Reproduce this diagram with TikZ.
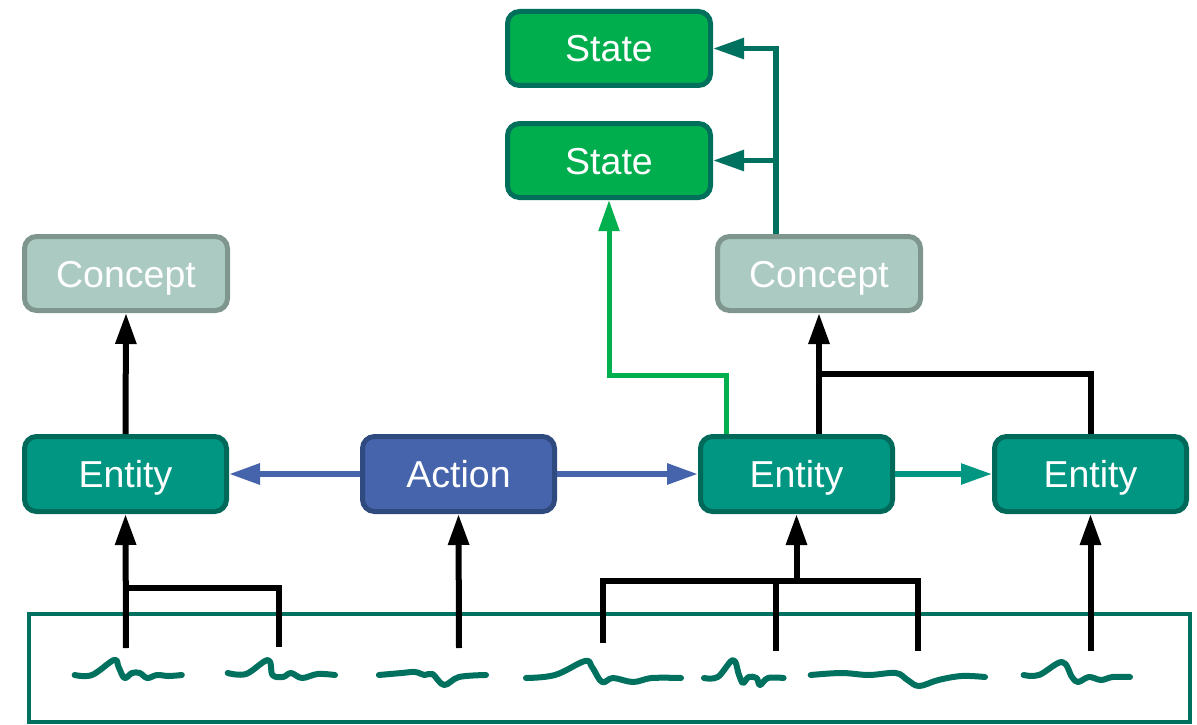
\documentclass[tikz,border=0pt]{standalone}
\usepackage{fontspec}
\setmainfont{Liberation Sans}
\usetikzlibrary{arrows.meta}

\definecolor{entfill}{HTML}{009682}
\definecolor{entdraw}{HTML}{00695A}
\definecolor{confill}{HTML}{ABCAC1}
\definecolor{condraw}{HTML}{7F968E}
\definecolor{actfill}{HTML}{4664AB}
\definecolor{actdraw}{HTML}{2F4A7E}
\definecolor{stafill}{HTML}{00AE4E}
\definecolor{stadraw}{HTML}{006F5B}
\definecolor{darkteal}{HTML}{00705F}
\definecolor{brightgreen}{HTML}{00B04F}

\tikzset{
  box/.style={rectangle, rounded corners=12pt, line width=5pt, inner sep=0pt,
    minimum width=202pt, minimum height=75pt, text=white,
    text height=27pt, text depth=0pt, font=\fontsize{37.5}{42}\selectfont},
  entitybox/.style={box, fill=entfill, draw=entdraw, minimum width=192pt},
  conceptbox/.style={box, fill=confill, draw=condraw, minimum width=203pt, minimum height=74pt},
  actionbox/.style={box, fill=actfill, draw=actdraw, minimum width=192pt},
  statebox/.style={box, fill=stafill, draw=stadraw, minimum width=203pt, minimum height=74pt},
  tip/.style={-{Triangle[length=31pt,width=20pt]}},
  blk/.style={line width=6pt, black},
  bluelink/.style={line width=6pt, actfill},
  greenlink/.style={line width=5pt, brightgreen},
  teallink/.style={line width=5.5pt, darkteal},
  entlink/.style={line width=5.5pt, entfill},
  word/.style={line width=6pt, darkteal, line cap=round, line join=round},
}

\begin{document}
\begin{tikzpicture}[x=1pt,y=-1pt]
\useasboundingbox (0,0) rectangle (1197,725);

% sentence frame
\draw[darkteal, line width=4pt] (29,614) rectangle (1190,722);

% handwritten words
\draw[word] plot[smooth, tension=0.6] coordinates {(74.6,675) (92,675) (114,660) (118.6,667) (124.4,678) (132,673) (139.7,673) (147.3,678) (157,675) (168.4,676) (181.8,675)};
\draw[word] plot[smooth, tension=0.6] coordinates {(227.7,673) (246,674) (268,660) (272.5,675) (283,677) (291,673) (302,678) (317.6,674) (335,675)};
\draw[word] plot[smooth, tension=0.6] coordinates {(378.9,675) (401.8,673) (415,672) (424.8,675) (432.5,674) (444,685) (459,677) (486,675)};
\draw[word] plot[smooth, tension=0.6] coordinates {(526,678) (555,675) (585,661) (592,667) (602,682) (613,678) (633,682) (652,678) (681,678)};
\draw[word] plot[smooth, tension=0.6] coordinates {(704,678) (717.8,677) (733,660) (739,675) (743,683) (748.7,677) (756.5,678) (760,685) (768,678) (783.6,678)};
\draw[word] plot[smooth, tension=0.6] coordinates {(810.7,675) (841.6,673) (868.7,675) (895.8,673) (907.5,680) (919,686) (938.4,680) (961.7,676) (985,677)};
\draw[word] plot[smooth, tension=0.6] coordinates {(1023.6,675) (1039,675) (1062,662) (1072,677) (1078,682) (1089,677) (1101,680) (1112.6,677) (1130,677)};

% boxes
\node[conceptbox] (cl) at (126,273.5) {Concept};
\node[entitybox, minimum width=202pt] (el) at (125.5,474) {Entity};
\node[actionbox] (act) at (458.5,474) {Action};
\node[entitybox] (em) at (796.5,474) {Entity};
\node[entitybox] (er) at (1090.5,474) {Entity};
\node[conceptbox] (cr) at (819,273.5) {Concept};
\node[statebox] (s1) at (609,48.5) {State};
\node[statebox] (s2) at (609,160.5) {State};

% anchor points on the words and junctions
\coordinate (w1) at (126,648);
\coordinate (w2) at (279,647);
\coordinate (w3) at (459,648);
\coordinate (w4) at (603,643);
\coordinate (w5) at (776,651);
\coordinate (w6) at (918,651);
\coordinate (w7) at (1090.5,651);
\coordinate (j1) at (126,588);
\coordinate (j2) at (796.5,581);
\coordinate (b5) at (776,581);
\coordinate (b6) at (918,581);
\coordinate (j3) at (819,374);
\coordinate (g1) at (609,375);
\coordinate (t1) at (776,160.5);

% words to entities and action
\draw[blk, tip] (w1) -- (el.south);
\draw[blk] (j1) -| (w2);
\draw[blk, tip] (w3) -- (act.south);
\draw[blk] (w4) |- (b6) -- (w6);
\draw[blk] (w5) -- (b5);
\draw[blk, tip] (j2) -- (em.south);
\draw[blk, tip] (w7) -- (er.south);

% entities to concepts
\draw[blk, tip] (el.north) -- (cl.south);
\draw[blk, tip] ([xshift=22.5pt]em.north) -- (cr.south);
\draw[blk] (j3) -| (er.north);

% action links
\draw[bluelink, tip] (act.west) -- (el.east);
\draw[bluelink, tip] (act.east) -- (em.west);
\draw[entlink, tip] (em.east) -- (er.west);

% states
\draw[greenlink, tip] ([xshift=-70.5pt]em.north) |- (g1) -- (s2.south);
\draw[teallink, tip] ([xshift=-43pt]cr.north) |- (s1.east);
\draw[teallink, tip] (t1) -- (s2.east);
\end{tikzpicture}
\end{document}
